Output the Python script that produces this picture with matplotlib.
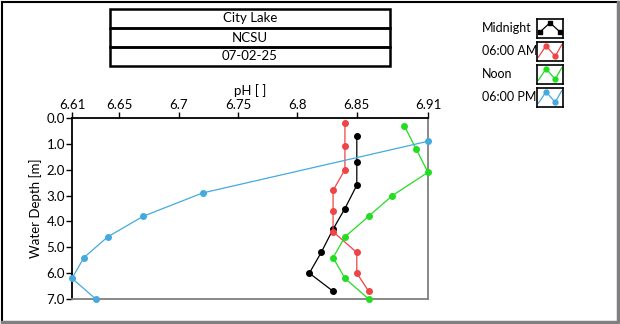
import matplotlib
matplotlib.use('Agg')
import matplotlib.pyplot as plt
from matplotlib.patches import Rectangle
from matplotlib.lines import Line2D

plt.rcParams['font.family'] = ['Lato', 'DejaVu Sans']

# depth profiles of pH, one per sampling time
mid_ph = [6.85, 6.85, 6.85, 6.84, 6.83, 6.82, 6.81, 6.83]
mid_depth = [0.7, 1.7, 2.6, 3.5, 4.3, 5.2, 6.0, 6.7]

am_ph = [6.84, 6.84, 6.84, 6.83, 6.83, 6.83, 6.85, 6.85, 6.86]
am_depth = [0.2, 1.1, 2.0, 2.8, 3.6, 4.4, 5.2, 6.0, 6.7]

noon_ph = [6.89, 6.90, 6.91, 6.88, 6.86, 6.84, 6.83, 6.84, 6.86]
noon_depth = [0.3, 1.2, 2.1, 3.0, 3.8, 4.6, 5.4, 6.2, 7.0]

pm_ph = [6.91, 6.72, 6.67, 6.64, 6.62, 6.61, 6.63]
pm_depth = [0.9, 2.9, 3.8, 4.6, 5.4, 6.2, 7.0]

series = [
    ('Midnight', mid_ph, mid_depth, '#000000'),
    ('06:00 AM', am_ph, am_depth, '#ee4444'),
    ('Noon', noon_ph, noon_depth, '#22dd22'),
    ('06:00 PM', pm_ph, pm_depth, '#44aadd'),
]

x_ticks = [6.61, 6.65, 6.7, 6.75, 6.8, 6.85, 6.91]
y_ticks = [0.0, 1.0, 2.0, 3.0, 4.0, 5.0, 6.0, 7.0]
header = ['City Lake', 'NCSU', '07-02-25']

W, H = 620, 324
fig = plt.figure(figsize=(W / 100, H / 100), dpi=100)

def fx(px):
    return px / W

def fy(py):
    return 1 - py / H

ax = fig.add_axes([fx(72), fy(299), fx(428) - fx(72), fy(118) - fy(299)])
for name, ph, depth, col in series:
    ax.plot(ph, depth, color=col, lw=0.9, marker='o', ms=4.0, clip_on=False, zorder=3)

ax.set_xlim(6.61, 6.91)
ax.set_ylim(7.0, 0.0)
ax.set_xticks(x_ticks)
ax.set_xticklabels([('%g' % v) for v in x_ticks])
ax.set_yticks(y_ticks)
ax.set_yticklabels(['%.1f' % v for v in y_ticks])
ax.xaxis.tick_top()
ax.xaxis.set_label_position('top')
ax.tick_params(axis='both', labelsize=9.5, length=4, width=1, pad=1, color='#000000')
ax.set_xlabel('pH [ ]', fontsize=9.5, labelpad=3)
ax.set_ylabel('Water Depth [m]', fontsize=9.5, labelpad=3)
ax.spines['top'].set_color('#000000')
ax.spines['left'].set_color('#000000')
ax.spines['right'].set_color('#808080')
ax.spines['bottom'].set_color('#808080')
for s in ax.spines.values():
    s.set_linewidth(1.3)

# header boxes
row_h = 19
for i, txt in enumerate(header):
    top = 9 + i * row_h
    fig.patches.append(Rectangle((fx(110), fy(top + row_h)), fx(390) - fx(110),
                                 fy(top) - fy(top + row_h), transform=fig.transFigure,
                                 fill=False, ec='#000000', lw=1.8))
    fig.text(fx(250), fy(top + row_h / 2), txt, ha='center', va='center', fontsize=9.5)

# legend with small plot icons
for i, (name, ph, depth, col) in enumerate(series):
    top = 19 + i * 23
    fig.text(fx(482), fy(top + 9), name, ha='left', va='center', fontsize=9)
    iax = fig.add_axes([fx(537), fy(top + 19), fx(563) - fx(537), fy(top) - fy(top + 19)])
    iax.set_xlim(0, 1)
    iax.set_ylim(0, 1)
    iax.set_xticks([])
    iax.set_yticks([])
    for s in iax.spines.values():
        s.set_linewidth(1.2)
    if name == 'Midnight':
        iax.plot([0.1, 0.5, 0.9], [0.3, 0.8, 0.3], color=col, lw=0.9, marker='s', ms=3.5)
    else:
        iax.plot([0.05, 0.35, 0.7, 0.95], [0.2, 0.8, 0.25, 0.85], color=col, lw=0.9)
        iax.plot([0.35, 0.7], [0.8, 0.25], color=col, lw=0, marker='o', ms=3.5)

# window frame
fig.add_artist(Line2D([fx(1.5), fx(1.5)], [fy(1.5), fy(322)], color='#000000', lw=1.5))
fig.add_artist(Line2D([fx(1.5), fx(618)], [fy(1.5), fy(1.5)], color='#000000', lw=1.5))
fig.add_artist(Line2D([fx(618), fx(618)], [fy(1.5), fy(321.5)], color='#808080', lw=2.5))
fig.add_artist(Line2D([fx(1.5), fx(618)], [fy(321.5), fy(321.5)], color='#808080', lw=2.5))

fig.savefig('out.png', dpi=100)
